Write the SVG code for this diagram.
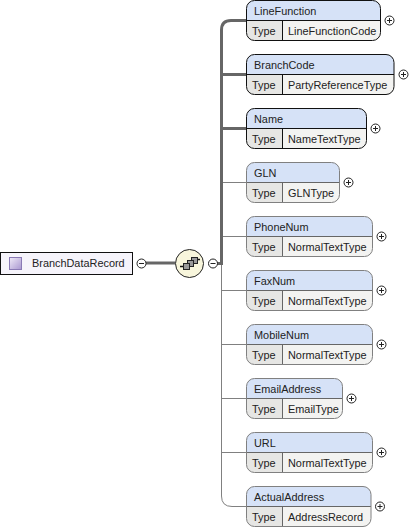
<svg xmlns="http://www.w3.org/2000/svg" width="411" height="532" viewBox="0 0 411 532">
<style>
text{font-family:"Liberation Sans",Arial,sans-serif;font-size:10.9px;fill:#222}
.hd{fill:#d6e2f7}.tl{fill:#e6e6e4}.tv{fill:#f3f3f1}
.o{fill:none;stroke:#333;stroke-width:1}.req{stroke:#111}.opt{stroke:#808080}
.sep{fill:none;stroke-width:1}
.thin{fill:none;stroke:#808080;stroke-width:1}.thick{fill:none;stroke:#666;stroke-width:3}
.pm{fill:#fff;stroke:#222;stroke-width:1}.g{fill:none;stroke:#222;stroke-width:1}
</style>
<defs>
<linearGradient id="sq" x1="0" y1="0" x2="1" y2="1"><stop offset="0" stop-color="#f0ebf8"/><stop offset="1" stop-color="#a896d0"/></linearGradient>
<g id="plus"><circle class="pm" r="4.5"/><path class="g" d="M-2.5 0H2.5M0-2.5V2.5"/></g>
<g id="minus"><circle class="pm" r="4.5"/><path class="g" d="M-2.5 0H2.5"/></g>
</defs>
<g id="connectors">
<path class="thick" d="M146 263H175"/>
<path class="thin" d="M221.500 263V496Q221.500 506.500 232 506.500H246"/>
<path class="thin" d="M221.500 182.500H246M221.500 236.500H246M221.500 290.500H246M221.500 344.500H246M221.500 398.500H246M221.500 452.500H246"/>
<path class="thick" d="M217 263.500H221.500V30Q221.500 20.500 231 20.500H246M221.500 74.500H246M221.500 128.500H246"/>
</g>
<g id="BranchDataRecord">
<rect x="0.500" y="252.500" width="132" height="22" fill="#f6f4fb" stroke="#111"/>
<rect x="9.500" y="257.500" width="12" height="12" fill="url(#sq)" stroke="#8a7ab5"/>
<text x="32" y="267">BranchDataRecord</text>
<use href="#minus" x="141.500" y="263.500"/>
</g>
<g id="sequence">
<circle cx="189.500" cy="263.500" r="14" fill="#f8f6dc" stroke="#222"/>
<path d="M180 266.500H184M196 259.500H200" stroke="#111" stroke-width="1.500" fill="none"/>
<rect x="191.500" y="257.500" width="6" height="6" fill="#999" stroke="#222"/>
<rect x="187.500" y="260.500" width="6" height="6" fill="#999" stroke="#222"/>
<rect x="183.500" y="263.500" width="6" height="6" fill="#999" stroke="#222"/>
<use href="#minus" x="213" y="263.500"/>
</g>
<g id="LineFunction">
<path class="hd" d="M246.500 20.500V8.500a8 8 0 0 1 8-8H372.500a8 8 0 0 1 8 8V20.500Z"/>
<path class="tl" d="M246.500 20.500H282V40.500H254.500a8 8 0 0 1-8-8Z"/><path class="tv" d="M282 20.500H380.500V32.500a8 8 0 0 1-8 8H282Z"/>
<path class="sep req" d="M246.500 20.500H380.500M282.500 20.500V40.500"/>
<rect class="o req" x="246.500" y="0.500" width="134" height="40" rx="8"/>
<text x="254" y="15">LineFunction</text><text x="252" y="35">Type</text><text x="288" y="35">LineFunctionCode</text>
<use href="#plus" x="389.500" y="20.500"/>
</g>
<g id="BranchCode">
<path class="hd" d="M246.500 74.500V62.500a8 8 0 0 1 8-8H386a8 8 0 0 1 8 8V74.500Z"/>
<path class="tl" d="M246.500 74.500H282V94.500H254.500a8 8 0 0 1-8-8Z"/><path class="tv" d="M282 74.500H394V86.500a8 8 0 0 1-8 8H282Z"/>
<path class="sep req" d="M246.500 74.500H394M282.500 74.500V94.500"/>
<rect class="o req" x="246.500" y="54.500" width="147.500" height="40" rx="8"/>
<text x="254" y="69">BranchCode</text><text x="252" y="89">Type</text><text x="288" y="89">PartyReferenceType</text>
<use href="#plus" x="403.500" y="74.500"/>
</g>
<g id="Name">
<path class="hd" d="M246.500 128.500V116.500a8 8 0 0 1 8-8H358.500a8 8 0 0 1 8 8V128.500Z"/>
<path class="tl" d="M246.500 128.500H282V148.500H254.500a8 8 0 0 1-8-8Z"/><path class="tv" d="M282 128.500H366.500V140.500a8 8 0 0 1-8 8H282Z"/>
<path class="sep req" d="M246.500 128.500H366.500M282.500 128.500V148.500"/>
<rect class="o req" x="246.500" y="108.500" width="120" height="40" rx="8"/>
<text x="254" y="123">Name</text><text x="252" y="143">Type</text><text x="288" y="143">NameTextType</text>
<use href="#plus" x="375.500" y="128.500"/>
</g>
<g id="GLN">
<path class="hd" d="M246.500 182.500V170.500a8 8 0 0 1 8-8H331.500a8 8 0 0 1 8 8V182.500Z"/>
<path class="tl" d="M246.500 182.500H282V202.500H254.500a8 8 0 0 1-8-8Z"/><path class="tv" d="M282 182.500H339.500V194.500a8 8 0 0 1-8 8H282Z"/>
<path class="sep" stroke="#666" d="M246.500 182.500H339.500M282.500 182.500V202.500"/>
<rect class="o opt" x="246.500" y="162.500" width="93" height="40" rx="8"/>
<text x="254" y="177">GLN</text><text x="252" y="197">Type</text><text x="288" y="197">GLNType</text>
<use href="#plus" x="348.500" y="182.500"/>
</g>
<g id="PhoneNum">
<path class="hd" d="M246.500 236.500V224.500a8 8 0 0 1 8-8H364.500a8 8 0 0 1 8 8V236.500Z"/>
<path class="tl" d="M246.500 236.500H282V256.500H254.500a8 8 0 0 1-8-8Z"/><path class="tv" d="M282 236.500H372.500V248.500a8 8 0 0 1-8 8H282Z"/>
<path class="sep" stroke="#666" d="M246.500 236.500H372.500M282.500 236.500V256.500"/>
<rect class="o opt" x="246.500" y="216.500" width="126" height="40" rx="8"/>
<text x="254" y="231">PhoneNum</text><text x="252" y="251">Type</text><text x="288" y="251">NormalTextType</text>
<use href="#plus" x="381.500" y="236.500"/>
</g>
<g id="FaxNum">
<path class="hd" d="M246.500 290.500V278.500a8 8 0 0 1 8-8H364.500a8 8 0 0 1 8 8V290.500Z"/>
<path class="tl" d="M246.500 290.500H282V310.500H254.500a8 8 0 0 1-8-8Z"/><path class="tv" d="M282 290.500H372.500V302.500a8 8 0 0 1-8 8H282Z"/>
<path class="sep" stroke="#666" d="M246.500 290.500H372.500M282.500 290.500V310.500"/>
<rect class="o opt" x="246.500" y="270.500" width="126" height="40" rx="8"/>
<text x="254" y="285">FaxNum</text><text x="252" y="305">Type</text><text x="288" y="305">NormalTextType</text>
<use href="#plus" x="381.500" y="290.500"/>
</g>
<g id="MobileNum">
<path class="hd" d="M246.500 344.500V332.500a8 8 0 0 1 8-8H364.500a8 8 0 0 1 8 8V344.500Z"/>
<path class="tl" d="M246.500 344.500H282V364.500H254.500a8 8 0 0 1-8-8Z"/><path class="tv" d="M282 344.500H372.500V356.500a8 8 0 0 1-8 8H282Z"/>
<path class="sep" stroke="#666" d="M246.500 344.500H372.500M282.500 344.500V364.500"/>
<rect class="o opt" x="246.500" y="324.500" width="126" height="40" rx="8"/>
<text x="254" y="339">MobileNum</text><text x="252" y="359">Type</text><text x="288" y="359">NormalTextType</text>
<use href="#plus" x="381.500" y="344.500"/>
</g>
<g id="EmailAddress">
<path class="hd" d="M246.500 398.500V386.500a8 8 0 0 1 8-8H334.500a8 8 0 0 1 8 8V398.500Z"/>
<path class="tl" d="M246.500 398.500H282V418.500H254.500a8 8 0 0 1-8-8Z"/><path class="tv" d="M282 398.500H342.500V410.500a8 8 0 0 1-8 8H282Z"/>
<path class="sep" stroke="#666" d="M246.500 398.500H342.500M282.500 398.500V418.500"/>
<rect class="o opt" x="246.500" y="378.500" width="96" height="40" rx="8"/>
<text x="254" y="393">EmailAddress</text><text x="252" y="413">Type</text><text x="288" y="413">EmailType</text>
<use href="#plus" x="351.500" y="398.500"/>
</g>
<g id="URL">
<path class="hd" d="M246.500 452.500V440.500a8 8 0 0 1 8-8H364.500a8 8 0 0 1 8 8V452.500Z"/>
<path class="tl" d="M246.500 452.500H282V472.500H254.500a8 8 0 0 1-8-8Z"/><path class="tv" d="M282 452.500H372.500V464.500a8 8 0 0 1-8 8H282Z"/>
<path class="sep" stroke="#666" d="M246.500 452.500H372.500M282.500 452.500V472.500"/>
<rect class="o opt" x="246.500" y="432.500" width="126" height="40" rx="8"/>
<text x="254" y="447">URL</text><text x="252" y="467">Type</text><text x="288" y="467">NormalTextType</text>
<use href="#plus" x="381.500" y="452.500"/>
</g>
<g id="ActualAddress">
<path class="hd" d="M246.500 506.500V494.500a8 8 0 0 1 8-8H363a8 8 0 0 1 8 8V506.500Z"/>
<path class="tl" d="M246.500 506.500H282V526.500H254.500a8 8 0 0 1-8-8Z"/><path class="tv" d="M282 506.500H371V518.500a8 8 0 0 1-8 8H282Z"/>
<path class="sep" stroke="#666" d="M246.500 506.500H371M282.500 506.500V526.500"/>
<rect class="o opt" x="246.500" y="486.500" width="124.500" height="40" rx="8"/>
<text x="254" y="501">ActualAddress</text><text x="252" y="521">Type</text><text x="288" y="521">AddressRecord</text>
<use href="#plus" x="380" y="506.500"/>
</g>
</svg>
